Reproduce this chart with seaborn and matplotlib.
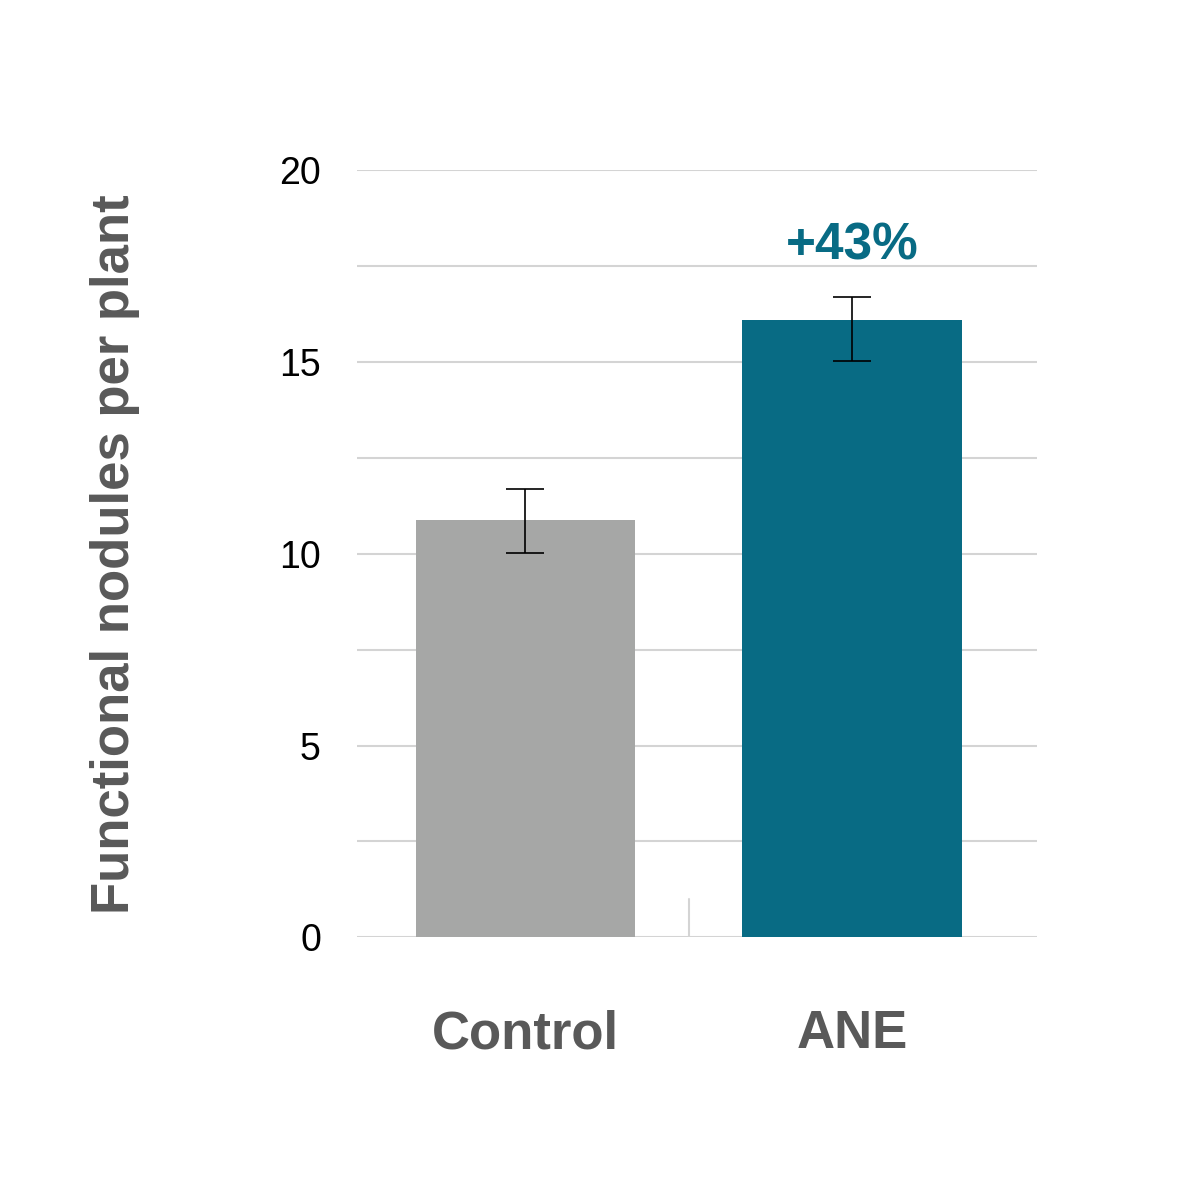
import matplotlib
matplotlib.use("Agg")
import matplotlib.pyplot as plt
import seaborn as sns
import pandas as pd
import numpy as np

categories = ["Control", "ANE"]
values = [10.87, 16.11]
err_low = [10.01, 15.02]
err_high = [11.68, 16.69]
colors = ["#a6a7a6", "#086b84"]
annotation = "+43%"

sns.set_theme(style="white")
plt.rcParams['font.family'] = ['Liberation Sans', 'DejaVu Sans']

fig = plt.figure(figsize=(12, 12), dpi=100)
ax = fig.add_axes([0.2975, 0.219, 0.5667, 0.639])
df = pd.DataFrame({"cat": categories, "val": values})
sns.barplot(data=df, x="cat", y="val", hue="cat", palette=colors, width=0.67, ax=ax,
            legend=False, saturation=1, linewidth=0)
yerr = np.array([np.array(values) - np.array(err_low), np.array(err_high) - np.array(values)])
ax.errorbar(range(len(categories)), values, yerr=yerr, fmt="none", ecolor="black",
            elinewidth=1.2, capsize=14, capthick=1.2)

ax.set_xlim(-0.514, 1.566)
ax.set_ylim(0, 20)
ax.set_yticks(np.arange(0, 20.1, 5))
ax.set_yticks(np.arange(0, 20.1, 2.5), minor=True)
ax.grid(axis="y", which="both", color="#d4d4d4", linewidth=1.5)
ax.set_axisbelow(True)
for s in ax.spines.values():
    s.set_visible(False)
ax.tick_params(axis="y", which="both", length=0, labelsize=27, pad=26, colors="black")
ax.tick_params(axis="x", length=0, labelsize=38, pad=52, labelcolor="#595959")
for t in ax.get_xticklabels():
    t.set_fontweight("bold")
ax.plot([0.5, 0.5], [0, 1.0], color="#d4d4d4", linewidth=1.5)
ax.set_xlabel("")
ax.set_ylabel("Functional nodules per plant", fontsize=38, fontweight="bold", color="#595959", labelpad=100)
ax.text(1, 17.4, annotation, ha="center", va="bottom", fontsize=37, fontweight="bold", color="#086b84")
fig.savefig("out.png", dpi=100)
